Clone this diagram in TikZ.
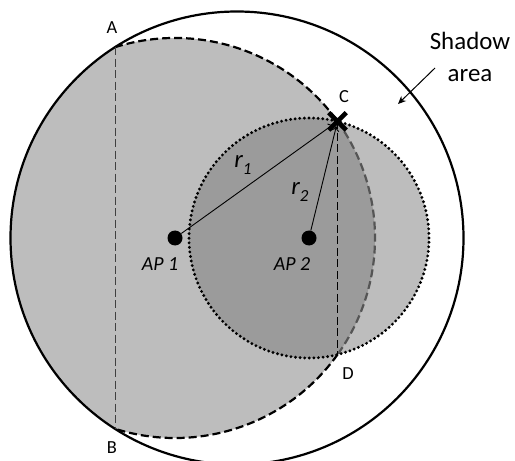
\documentclass[tikz,border=0pt]{standalone}
\usepackage{fontspec}
\setmainfont{Carlito}
\usetikzlibrary{arrows.meta,shapes.misc}
\definecolor{lightg}{RGB}{189,189,189}
\definecolor{darkg}{RGB}{155,155,155}
\definecolor{midg}{RGB}{85,85,85}
\begin{document}
\begin{tikzpicture}[x=1bp,y=1bp,
  lab/.style={font=\fontsize{18.5}{21}\selectfont, inner sep=0},
  aplab/.style={font=\fontsize{20}{24}\selectfont\itshape, inner sep=0},
  rlab/.style={font=\fontsize{25}{29}\selectfont\itshape, inner sep=0},
  dotn/.style={circle, fill=black, inner sep=0, minimum size=15bp},
  bigdash/.style={line width=2.2bp, dash pattern=on 8bp off 4bp},
  thindash/.style={line width=1bp, dash pattern=on 8bp off 3.5bp},
  dotline/.style={line width=3.2bp, line cap=round, dash pattern=on 0bp off 4.6bp},
  radarrow/.style={-{To[length=5bp,width=8bp]}, line width=0.9bp, shorten >=5bp}
]
\useasboundingbox (0,-461) rectangle (515,0);
\coordinate (O) at (237,-238);
\coordinate (P1) at (175,-238);
\coordinate (P2) at (309,-238);
\coordinate (A) at (115,-47.2);
\coordinate (B) at (115,-428.8);
\coordinate (C) at (337.5,-121.4);
\coordinate (D) at (337.5,-354.6);
% fills
\begin{scope}
  \clip (O) circle [radius=226.5];
  \fill[lightg] (P1) circle [radius=200];
\end{scope}
\fill[lightg] (P2) circle [radius=120];
\begin{scope}
  \clip (P1) circle [radius=200];
  \fill[darkg] (P2) circle [radius=120];
\end{scope}
% outer circle
\draw[line width=2.2bp] (O) circle [radius=226.5];
% AP1 coverage circle (dashed)
\draw[bigdash] (A) arc [start angle=107.46, end angle=35.66, radius=200];
\draw[bigdash, midg] (C) arc [start angle=35.66, end angle=-35.66, radius=200];
\draw[bigdash] (D) arc [start angle=-35.66, end angle=-107.46, radius=200];
% AP2 circle (dotted)
\draw[dotline] (P2) circle [radius=120];
% chords
\draw[thindash, black!75] (A) -- (B);
\draw[thindash] (C) -- (D);
% APs
\node[dotn] (ap1) at (P1) {};
\node[dotn] (ap2) at (P2) {};
\draw[radarrow] (ap1) -- (C);
\draw[radarrow] (ap2) -- (C);
\node[cross out, draw, line width=4.5bp, minimum size=13bp, inner sep=0] (cx) at (C) {};
% labels
\node[lab] (la) at (112,-28) {A};
\node[lab] (lb) at (112,-448) {B};
\node[lab] (lc) at (344,-97) {C};
\node[lab] (ld) at (348,-374) {D};
\node[aplab] (lap1) at (160,-264) {AP 1};
\node[aplab] (lap2) at (292,-264) {AP 2};
\node[rlab] (lr1) at (243,-165) {r\raisebox{-0.26em}{\fontsize{17}{19}\selectfont 1}};
\node[rlab] (lr2) at (300,-192) {r\raisebox{-0.26em}{\fontsize{17}{19}\selectfont 2}};
% shadow area
\node[font=\fontsize{25}{32}\selectfont, align=center, inner sep=0] (sh) at (470,-57) {Shadow\\area};
\coordinate (s1) at (435,-68);
\coordinate (s2) at (398,-104);
\draw[-{Stealth[length=8bp,width=7bp]}, line width=1bp] (s1) -- (s2);
\end{tikzpicture}
\end{document}
